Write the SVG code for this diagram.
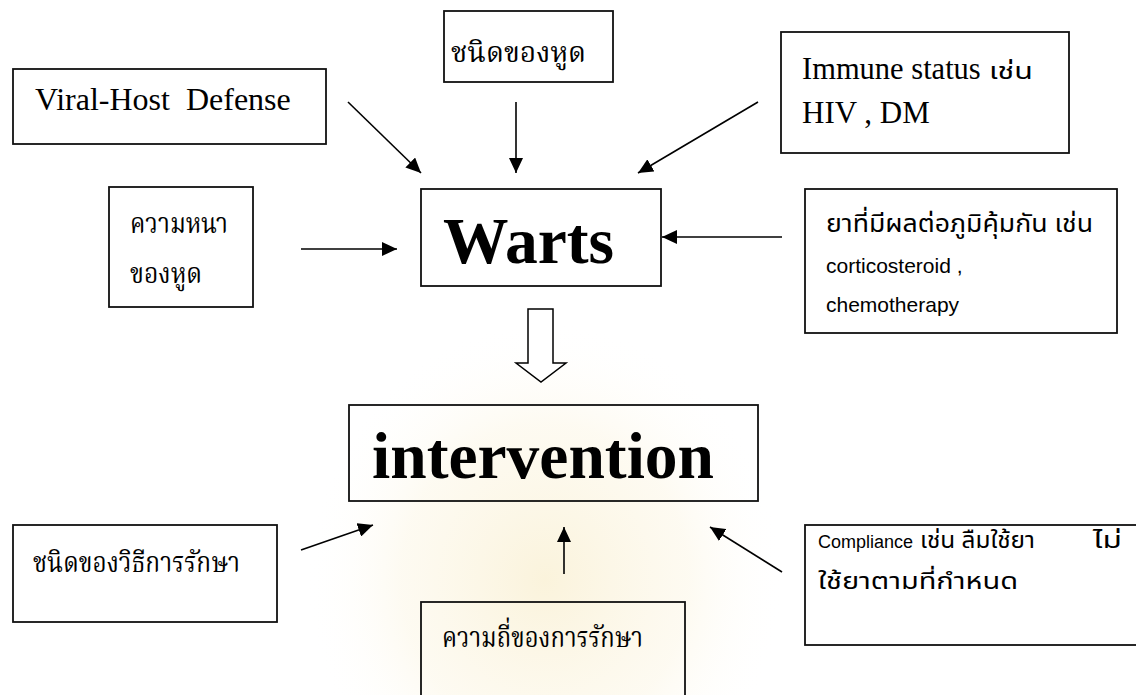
<svg xmlns="http://www.w3.org/2000/svg" width="1136" height="695" viewBox="0 0 1136 695">
<style>
.box{fill:none;stroke:#111;stroke-width:1.8}
.ln{stroke:#000;stroke-width:1.6;fill:none;marker-end:url(#ah)}
.ser{font-family:"Liberation Serif","Times New Roman",serif;fill:#000}
.san{font-family:"Liberation Sans",Arial,sans-serif;fill:#000}
.th{font-family:"Noto Serif Thai","Noto Sans Thai","Garuda","Loma","Noto Sans",sans-serif;fill:#000}
.ths{font-family:"Noto Sans Thai","Loma","Garuda","Noto Sans",sans-serif;fill:#000}
.big{font-family:"Liberation Serif","Times New Roman",serif;font-weight:bold;font-size:65.5px;fill:#000}
</style>
<defs>
<marker id="ah" viewBox="0 0 15 14" refX="15" refY="7" markerWidth="15" markerHeight="14" markerUnits="userSpaceOnUse" orient="auto">
<path d="M0,0 L15,7 L0,14 Z" fill="#000"/>
</marker>
<radialGradient id="wm" cx="0.5" cy="0.5" r="0.5">
<stop offset="0" stop-color="#f6e7b8" stop-opacity="0.5"/>
<stop offset="0.6" stop-color="#faf0d2" stop-opacity="0.3"/>
<stop offset="1" stop-color="#ffffff" stop-opacity="0"/>
</radialGradient>
</defs>
<rect width="1136" height="695" fill="#fff"/>
<ellipse cx="545" cy="580" rx="240" ry="260" fill="url(#wm)"/>

<g id="viral">
<rect class="box" x="13" y="69" width="313" height="75"/>
<text class="ser" x="35" y="110" font-size="32" xml:space="preserve">Viral-Host  Defense</text>
</g>
<g id="wart-type">
<rect class="box" x="444" y="11" width="169" height="71"/>
<text class="th" x="451" y="62" font-size="28" textLength="135" lengthAdjust="spacingAndGlyphs">ชนิดของหูด</text>
</g>
<g id="immune">
<rect class="box" x="781" y="32" width="288" height="121"/>
<text x="802" y="79" xml:space="preserve"><tspan class="ser" font-size="30.5">Immune status </tspan><tspan class="ths" x="989" font-size="23" textLength="44" lengthAdjust="spacingAndGlyphs">เช่น</tspan></text>
<text class="ser" x="802" y="123" font-size="31" xml:space="preserve">HIV , DM</text>
</g>
<g id="thickness">
<rect class="box" x="109" y="187" width="144" height="120"/>
<text class="th" x="130" y="233" font-size="28" textLength="98" lengthAdjust="spacingAndGlyphs">ความหนา</text>
<text class="th" x="130" y="283" font-size="28" textLength="72" lengthAdjust="spacingAndGlyphs">ของหูด</text>
</g>
<g id="warts">
<rect class="box" x="421" y="189" width="240" height="97"/>
<text class="big" x="443" y="263">Warts</text>
</g>
<g id="drugs">
<rect class="box" x="805" y="189" width="312" height="144"/>
<text class="ths" x="826" y="232" font-size="25" textLength="267" lengthAdjust="spacingAndGlyphs">ยาที่มีผลต่อภูมิคุ้มกัน เช่น</text>
<text class="san" x="826" y="273" font-size="21" xml:space="preserve">corticosteroid ,</text>
<text class="san" x="826" y="312" font-size="21">chemotherapy</text>
</g>
<g id="intervention">
<rect class="box" x="349" y="405" width="409" height="96"/>
<text class="big" x="372" y="478">intervention</text>
</g>
<g id="treatment-type">
<rect class="box" x="13" y="525" width="264" height="97"/>
<text class="th" x="33" y="572" font-size="28" textLength="207" lengthAdjust="spacingAndGlyphs">ชนิดของวิธีการรักษา</text>
</g>
<g id="frequency">
<rect class="box" x="421" y="602" width="264" height="100"/>
<text class="th" x="442" y="647" font-size="28" textLength="201" lengthAdjust="spacingAndGlyphs">ความถี่ของการรักษา</text>
</g>
<g id="compliance">
<rect class="box" x="805" y="525" width="340" height="120"/>
<text x="818" y="548" xml:space="preserve"><tspan class="san" font-size="18">Compliance </tspan><tspan class="ths" x="920" font-size="23" textLength="115" lengthAdjust="spacingAndGlyphs">เช่น ลืมใช้ยา</tspan><tspan class="ths">  </tspan><tspan class="ths" x="1093" font-size="23" textLength="29" lengthAdjust="spacingAndGlyphs">ไม่</tspan></text>
<text class="ths" x="818" y="589" font-size="23" textLength="200" lengthAdjust="spacingAndGlyphs">ใช้ยาตามที่กำหนด</text>
</g>

<g id="connectors">
<line class="ln" x1="348" y1="102" x2="421" y2="173"/>
<line class="ln" x1="516" y1="102" x2="516" y2="173"/>
<line class="ln" x1="758" y1="102" x2="638" y2="173"/>
<line class="ln" x1="301" y1="249" x2="397" y2="249"/>
<line class="ln" x1="782" y1="237" x2="662" y2="237"/>
<path d="M528,309 L553,309 L553,363 L566,363 L541,382 L516,363 L528,363 Z" fill="#fff" stroke="#000" stroke-width="1.5"/>
<line class="ln" x1="301" y1="550" x2="373" y2="525"/>
<line class="ln" x1="564" y1="574" x2="564" y2="527"/>
<line class="ln" x1="782" y1="572" x2="710" y2="527"/>
</g>
</svg>
